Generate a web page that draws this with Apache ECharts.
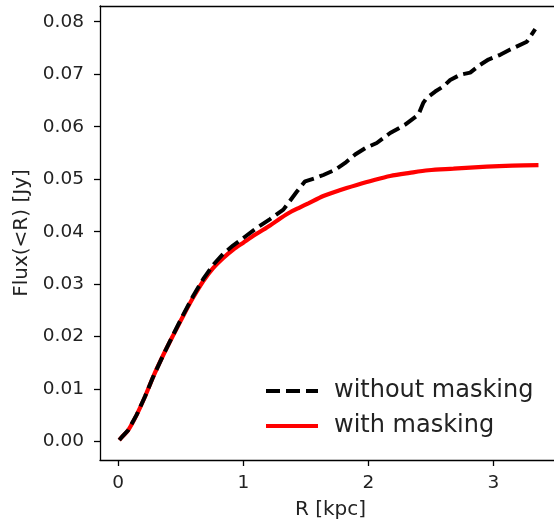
<!DOCTYPE html>
<html>
<head>
<meta charset="utf-8">
<script src="https://cdn.jsdelivr.net/npm/echarts@6/dist/echarts.min.js"></script>
<style>html,body{margin:0;padding:0;background:#fff;overflow:hidden}#c{width:600px;height:526px}</style>
</head>
<body>
<div id="c"></div>
<script>
var xTicks = [0, 1, 2, 3];
var yTicks = [0, 0.01, 0.02, 0.03, 0.04, 0.05, 0.06, 0.07, 0.08];

var rRed = [0.008, 0.03, 0.08, 0.147, 0.214, 0.28, 0.36, 0.44, 0.52, 0.6, 0.68, 0.76, 0.84, 0.92, 1.0, 1.1, 1.214, 1.3, 1.374, 1.45, 1.52, 1.64, 1.77, 1.907, 2.04, 2.174, 2.33, 2.48, 2.68, 2.947, 3.15, 3.36];
var fRed = [0.0003, 0.0009, 0.0022, 0.0051, 0.0086, 0.0124, 0.0165, 0.0203, 0.0240, 0.0275, 0.0306, 0.0331, 0.0350, 0.0366, 0.0379, 0.0395, 0.0412, 0.0426, 0.0437, 0.0446, 0.0454, 0.0468, 0.0479, 0.0489, 0.0498, 0.0506, 0.0512, 0.0517, 0.0520, 0.0524, 0.0526, 0.0527];

var rBlack = [0.008, 0.03, 0.08, 0.147, 0.214, 0.28, 0.36, 0.44, 0.52, 0.6, 0.68, 0.76, 0.84, 0.92, 1.0, 1.107, 1.214, 1.32, 1.427, 1.494, 1.574, 1.64, 1.734, 1.814, 1.894, 1.974, 2.067, 2.174, 2.294, 2.4, 2.44, 2.467, 2.534, 2.6, 2.654, 2.734, 2.814, 2.894, 2.96, 3.054, 3.134, 3.267, 3.334];
var fBlack = [0.0003, 0.0009, 0.0022, 0.0051, 0.0086, 0.0124, 0.0165, 0.0204, 0.0242, 0.0278, 0.0310, 0.0337, 0.0358, 0.0374, 0.0388, 0.0407, 0.0424, 0.0442, 0.0476, 0.0496, 0.0502, 0.0508, 0.0518, 0.0531, 0.0547, 0.0559, 0.0569, 0.0588, 0.0604, 0.0623, 0.0646, 0.0655, 0.0667, 0.0677, 0.0689, 0.0699, 0.0703, 0.0718, 0.0728, 0.0737, 0.0747, 0.0762, 0.0786];

function pairs(xs, ys) { return xs.map(function (x, i) { return [x, ys[i]]; }); }

var chart = echarts.init(document.getElementById('c'), null, {renderer: 'canvas'});
var font = 'DejaVu Sans';
var axisLineStyle = {color: '#000', width: 1.3};
chart.setOption({
  animation: false,
  backgroundColor: '#fff',
  grid: {left: 100, top: 6, width: 461, height: 454, show: false, containLabel: false, outerBoundsMode: 'none'},
  legend: {
    orient: 'vertical', left: 259, top: 374,
    itemWidth: 52, itemHeight: 14, itemGap: 11,
    itemStyle: {opacity: 0},
    lineStyle: {width: 4},
    textStyle: {fontFamily: font, fontSize: 24, color: '#222', padding: [0, 0, 0, 11]},
    data: ['without masking', 'with masking']
  },
  xAxis: [{
    type: 'value', min: -0.146, max: 3.54,
    name: 'R [kpc]', nameLocation: 'middle', nameGap: 40,
    nameTextStyle: {fontFamily: font, fontSize: 20, color: '#222'},
    axisLine: {show: true, onZero: false, lineStyle: axisLineStyle},
    axisTick: {show: true, inside: false, length: 6, lineStyle: axisLineStyle, customValues: xTicks},
    axisLabel: {fontFamily: font, fontSize: 18.5, color: '#222', margin: 14, customValues: xTicks, formatter: function (v) { return String(v); }},
    splitLine: {show: false}
  }, {
    type: 'value', position: 'top', min: -0.146, max: 3.54,
    axisLine: {show: true, onZero: false, lineStyle: axisLineStyle},
    axisTick: {show: false}, axisLabel: {show: false}, splitLine: {show: false}
  }],
  yAxis: {
    type: 'value', min: -0.0035, max: 0.0830,
    name: 'Flux(<R) [Jy]', nameLocation: 'middle', nameGap: 66, nameRotate: 90,
    nameTextStyle: {fontFamily: font, fontSize: 20, color: '#222'},
    axisLine: {show: true, onZero: false, lineStyle: axisLineStyle},
    axisTick: {show: true, inside: false, length: 6, lineStyle: axisLineStyle, customValues: yTicks},
    axisLabel: {fontFamily: font, fontSize: 18.5, color: '#222', margin: 16, customValues: yTicks, formatter: function (v) { return v.toFixed(2); }},
    splitLine: {show: false}
  },
  series: [
    {
      name: 'without masking', type: 'line', symbol: 'none', z: 3,
      data: pairs(rBlack, fBlack),
      lineStyle: {color: '#000', width: 4, type: [14, 6]},
      itemStyle: {color: '#000'}
    },
    {
      name: 'with masking', type: 'line', symbol: 'none', smooth: 0.3, z: 2,
      data: pairs(rRed, fRed),
      lineStyle: {color: '#ff0000', width: 4.2},
      itemStyle: {color: '#ff0000'}
    }
  ]
});
</script>
</body>
</html>
